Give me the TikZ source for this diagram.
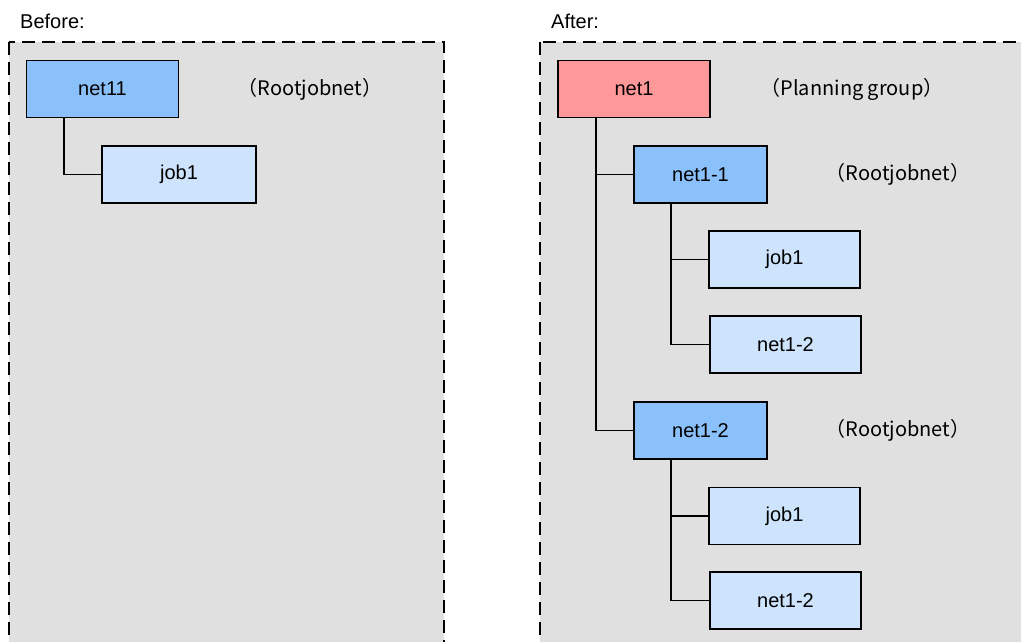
\documentclass[tikz,border=0pt]{standalone}
\usepackage{fontspec}
\setmainfont{Liberation Sans}
\newfontfamily\cjk{Noto Sans CJK JP}
\usetikzlibrary{positioning}

\definecolor{netblue}{HTML}{8BC1FA}
\definecolor{jobblue}{HTML}{CDE4FC}
\definecolor{grouppink}{HTML}{FF9999}
\definecolor{panelgray}{HTML}{E0E0E0}

\begin{document}
\begin{tikzpicture}[
        x=1pt, y=-1pt,
        every node/.style={font=\fontsize{20}{24}\selectfont},
        unitbox/.style 2 args={draw,line width=1.5pt,fill=#2,minimum width=#1,minimum height=57pt,inner sep=0pt},
        panel/.style={draw,fill=panelgray,line width=1.8pt,dash pattern=on 13pt off 7pt},
        title/.style={anchor=base west,inner sep=0pt},
        link/.style={line width=1.8pt}
    ]
        \useasboundingbox (0,0) rectangle (1021,642);
        \clip (0,0) rectangle (1021,642);

        \draw [panel] (9,42) rectangle (444,700);
        \draw [panel] (540,42) rectangle (1100,700);

        \node [title] (before) at (20,29) {Before:};
        \node [title] (after)  at (551,29) {After:};

        % before
        \node [unitbox={152pt}{netblue}] (net11) at (102.5,89)  {net11};
        \node [unitbox={154pt}{jobblue}] (joba)  at (179,174.5) {job1};
        \node (roota) at (310,89) {\cjk{（}Rootjobnet\cjk{）}};

        \draw [link] ([xshift=38pt]net11.south west) |- (joba.west);

        % after
        \node [unitbox={152pt}{grouppink}] (net1)  at (634,89)     {net1};
        \node (plan) at (852,89) {\cjk{（}Planning group\cjk{）}};

        \node [unitbox={133pt}{netblue}] (neta)  at (700.5,174.5) {net1-1};
        \node [unitbox={151pt}{jobblue}] (jobb)  at (784.5,259.5) {job1};
        \node [unitbox={151pt}{jobblue}] (suba)  at (785.5,344.5) {net1-2};
        \node (rootb) at (898,174) {\cjk{（}Rootjobnet\cjk{）}};

        \node [unitbox={133pt}{netblue}] (netb)  at (700.5,430.5) {net1-2};
        \node [unitbox={151pt}{jobblue}] (jobc)  at (784.5,516)   {job1};
        \node [unitbox={151pt}{jobblue}] (subb)  at (785.5,600.5) {net1-2};
        \node (rootc) at (898,430) {\cjk{（}Rootjobnet\cjk{）}};

        \draw [link] ([xshift=39pt]net1.south west) |- (neta.west);
        \draw [link] ([xshift=39pt]net1.south west) |- (netb.west);
        \draw [link] ([xshift=38pt]neta.south west) |- (jobb.west);
        \draw [link] ([xshift=38pt]neta.south west) |- (suba.west);
        \draw [link] ([xshift=38pt]netb.south west) |- (jobc.west);
        \draw [link] ([xshift=38pt]netb.south west) |- (subb.west);
    \end{tikzpicture}
\end{document}
